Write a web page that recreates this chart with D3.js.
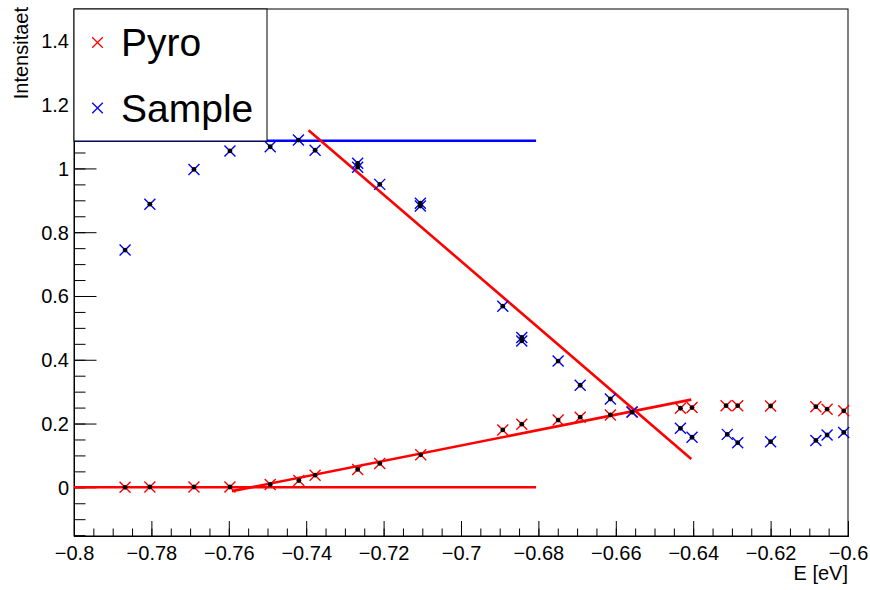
<!DOCTYPE html>
<html>
<head>
<meta charset="utf-8">
<script src="https://cdn.jsdelivr.net/npm/d3@7"></script>
<style>
  html, body { margin: 0; padding: 0; background: #fff; }
  svg { display: block; font-family: "Liberation Sans", Arial, sans-serif; }
</style>
</head>
<body>
<svg id="chart" width="870" height="590"></svg>
<script>
// ---- data ----
const pyroX = [-0.7868, -0.7804, -0.7690, -0.7597, -0.7493, -0.7419, -0.7377, -0.7267, -0.7210, -0.7104,
  -0.6892, -0.6843, -0.6749, -0.6692, -0.6614, -0.6558, -0.6433, -0.6403, -0.6315, -0.6285,
  -0.6200, -0.6083, -0.6054, -0.6011];
const pyroY = [0.000, 0.001, 0.001, 0.001, 0.009, 0.021, 0.038, 0.056, 0.075, 0.102,
  0.180, 0.198, 0.211, 0.220, 0.227, 0.236, 0.248, 0.250, 0.256, 0.256,
  0.255, 0.253, 0.245, 0.240];
const sampleX = [-0.7868, -0.7804, -0.7690, -0.7597, -0.7493, -0.7420, -0.7377, -0.7267, -0.7267, -0.7210,
  -0.7105, -0.7105, -0.6892, -0.6843, -0.6843, -0.6749, -0.6692, -0.6614, -0.6558, -0.6433,
  -0.6403, -0.6312, -0.6285, -0.6200, -0.6083, -0.6054, -0.6011];
const sampleY = [0.744, 0.888, 0.997, 1.055, 1.068, 1.089, 1.057, 1.016, 1.004, 0.950,
  0.891, 0.882, 0.568, 0.470, 0.459, 0.396, 0.320, 0.277, 0.236, 0.185,
  0.157, 0.166, 0.140, 0.143, 0.147, 0.164, 0.172];
// fit lines: [x1, y1, x2, y2]
const blueLevel = [-0.8, 1.087, -0.6806, 1.087];
const redLevel = [-0.8, 0.0, -0.6806, 0.0];
const redFall = [-0.7394, 1.120, -0.6405, 0.089];
const redRise = [-0.7592, -0.012, -0.6405, 0.275];
const xTicks = [-0.8, -0.78, -0.76, -0.74, -0.72, -0.7, -0.68, -0.66, -0.64, -0.62, -0.6];
const yTicks = [0, 0.2, 0.4, 0.6, 0.8, 1, 1.2, 1.4];
const legendNames = ["Pyro", "Sample"];

// ---- layout ----
const L = 74, R = 848, T = 9, B = 536;
const svg = d3.select("#chart");
const x = d3.scaleLinear().domain([-0.8, -0.6]).range([L, R]);
const y = d3.scaleLinear().domain([-0.1527, 1.5]).range([B, T]);
const RED = "#ff0000", BLUE = "#0000ff";

// frame
svg.append("rect").attr("x", L).attr("y", T).attr("width", R - L).attr("height", B - T)
  .attr("fill", "none").attr("stroke", "#000").attr("stroke-width", 1);

// x axis
const xMinor = d3.range(0, 41).map(i => -0.8 + i * 0.005);
const xAxisMinor = d3.axisBottom(x).tickValues(xMinor).tickSize(-7.5).tickFormat("");
const xAxisMajor = d3.axisBottom(x).tickValues(xTicks).tickSize(-15)
  .tickFormat(d => (d < 0 ? "\u2212" : "") + String(Math.abs(+d.toFixed(2))));
const gxm = svg.append("g").attr("transform", `translate(0,${B})`).call(xAxisMinor);
const gx = svg.append("g").attr("transform", `translate(0,${B})`).call(xAxisMajor);
[gxm, gx].forEach(g => { g.select(".domain").attr("stroke", "#000"); g.selectAll("line").attr("stroke", "#000"); });
gx.selectAll("text").attr("font-size", 20).attr("fill", "#000").attr("y", 0).attr("dy", 24)
  .attr("font-family", "Liberation Sans, Arial, sans-serif");

// y axis
const yMinor = d3.range(-3, 31).map(i => i * 0.05);
const yAxisMinor = d3.axisLeft(y).tickValues(yMinor).tickSize(-11.5).tickFormat("");
const yAxisMajor = d3.axisLeft(y).tickValues(yTicks).tickSize(-22.5).tickFormat(d => String(+d.toFixed(1)));
const gym = svg.append("g").attr("transform", `translate(${L},0)`).call(yAxisMinor);
const gy = svg.append("g").attr("transform", `translate(${L},0)`).call(yAxisMajor);
[gym, gy].forEach(g => { g.select(".domain").attr("stroke", "#000"); g.selectAll("line").attr("stroke", "#000"); });
gy.selectAll("text").attr("font-size", 20).attr("fill", "#000").attr("x", -5).attr("dy", "0.35em")
  .attr("font-family", "Liberation Sans, Arial, sans-serif");

// axis titles
svg.append("text").attr("x", R).attr("y", 580).attr("text-anchor", "end")
  .attr("font-size", 20).attr("fill", "#000").text("E [eV]");
svg.append("text").attr("transform", "translate(27.5,7) rotate(-90)").attr("text-anchor", "end")
  .attr("font-size", 20).attr("fill", "#000").text("Intensitaet");

// fit lines
const fits = [[blueLevel, BLUE], [redLevel, RED], [redFall, RED], [redRise, RED]];
svg.append("g").selectAll("line").data(fits).join("line")
  .attr("x1", d => x(d[0][0])).attr("y1", d => y(d[0][1]))
  .attr("x2", d => x(d[0][2])).attr("y2", d => y(d[0][3]))
  .attr("stroke", d => d[1]).attr("stroke-width", 2.6);

// markers
function crosses(g, xs, ys, color) {
  const pts = xs.map((v, i) => [x(v), y(ys[i])]);
  const s = 5.5;
  g.selectAll(null).data(pts).join("path")
    .attr("d", d => `M${d[0]-s},${d[1]-s}L${d[0]+s},${d[1]+s}M${d[0]-s},${d[1]+s}L${d[0]+s},${d[1]-s}`)
    .attr("stroke", color).attr("stroke-width", 1.4).attr("fill", "none");
  return pts;
}
const gp = svg.append("g");
const pPts = crosses(gp, pyroX, pyroY, RED);
const sPts = crosses(gp, sampleX, sampleY, BLUE);
gp.selectAll("circle").data(pPts.concat(sPts)).join("circle")
  .attr("cx", d => d[0]).attr("cy", d => d[1]).attr("r", 2.4).attr("fill", "#000");

// legend
const lg = svg.append("g");
lg.append("rect").attr("x", L).attr("y", T).attr("width", 193).attr("height", 132)
  .attr("fill", "#fff").attr("stroke", "#000").attr("stroke-width", 1);
const legY = [42.5, 108];
const legC = [RED, BLUE];
legendNames.forEach((name, i) => {
  const cx = 97.5, cy = legY[i], s = 5.3;
  lg.append("path").attr("d", `M${cx-s},${cy-s}L${cx+s},${cy+s}M${cx-s},${cy+s}L${cx+s},${cy-s}`)
    .attr("stroke", legC[i]).attr("stroke-width", 1.3);
  lg.append("text").attr("x", 121).attr("y", cy + 13.5).attr("font-size", 39).attr("fill", "#000").text(name);
});
</script>
</body>
</html>
